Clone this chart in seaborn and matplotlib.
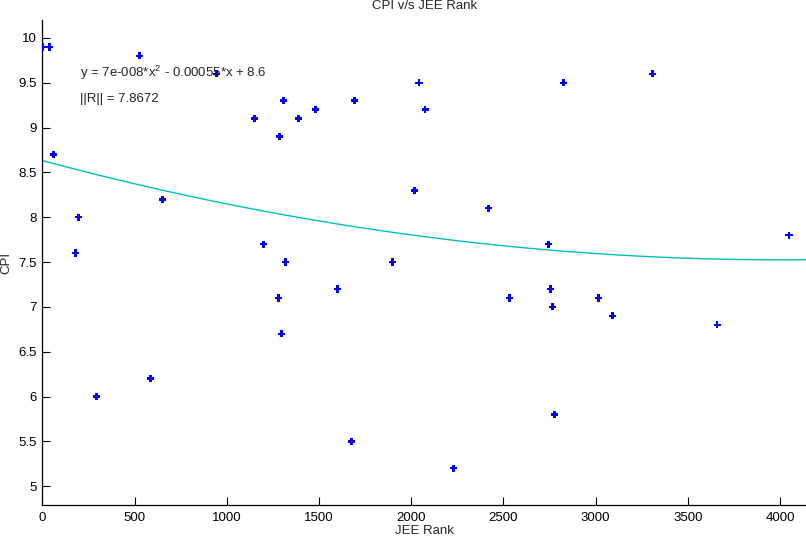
import numpy as np
import pandas as pd
import matplotlib
matplotlib.use("Agg")
import matplotlib.pyplot as plt
import seaborn as sns

# JEE rank vs CPI
jee_rank = [5, 40, 61, 197, 181, 528, 945, 652, 1151, 1286, 1308, 1389, 1481,
            1693, 1199, 1319, 1899, 2018, 2043, 2076, 2419, 2744, 2825, 3308,
            4049, 294, 587, 1281, 1297, 1601, 1677, 2534, 2755, 2766, 3015,
            3091, 3660, 2777, 2229]
cpi = [9.9, 9.9, 8.7, 8.0, 7.6, 9.8, 9.6, 8.2, 9.1, 8.9, 9.3, 9.1, 9.2,
       9.3, 7.7, 7.5, 7.5, 8.3, 9.5, 9.2, 8.1, 7.7, 9.5, 9.6,
       7.8, 6.0, 6.2, 7.1, 6.7, 7.2, 5.5, 7.1, 7.2, 7.0, 7.1,
       6.9, 6.8, 5.8, 5.2]
x_ticks = [0, 500, 1000, 1500, 2000, 2500, 3000, 3500, 4000]
y_ticks = [5, 5.5, 6, 6.5, 7, 7.5, 8, 8.5, 9, 9.5, 10]
y_tick_labels = ["5", "5.5", "6", "6.5", "7", "7.5", "8", "8.5", "9", "9.5", "10"]

df = pd.DataFrame({"JEE Rank": jee_rank, "CPI": cpi})

sns.set_style("white")
plt.rcParams["font.family"] = ["Liberation Sans", "DejaVu Sans"]
plt.rcParams["mathtext.fontset"] = "custom"
plt.rcParams["mathtext.rm"] = "Liberation Sans"
plt.rcParams["mathtext.it"] = "Liberation Sans:italic"

fig = plt.figure(figsize=(8.06, 5.38), dpi=100)
ax = fig.add_axes([42.3 / 806, 1 - 505 / 538, 1 - 42.3 / 806, (505 - 20) / 538])
ax.set_xlim(0, 4141)
ax.set_ylim(4.79, 10.2)

# quadratic fit (MATLAB basic fitting style)
sns.regplot(data=df, x="JEE Rank", y="CPI", order=2, ci=None, scatter=False,
            truncate=False, line_kws={"color": "#00bfbf", "lw": 1.0}, ax=ax)
sns.scatterplot(data=df, x="JEE Rank", y="CPI", marker="P", s=27,
                color="#0000ff", edgecolor="none", ax=ax, zorder=3)

ax.set_xlim(0, 4141)
ax.set_ylim(4.79, 10.2)
ax.set_xticks(x_ticks)
ax.set_yticks(y_ticks)
ax.set_yticklabels(y_tick_labels)
ax.tick_params(direction="in", length=5.5, width=0.8, labelsize=9.5, colors="black",
               bottom=True, left=True)
ax.tick_params(axis="x", pad=5)
ax.tick_params(axis="y", pad=4)
for side in ["top", "right"]:
    ax.spines[side].set_visible(False)
for side in ["left", "bottom"]:
    ax.spines[side].set_color("black")
    ax.spines[side].set_linewidth(0.9)

ax.set_title("CPI v/s JEE Rank", fontsize=9.5, pad=8)
ax.set_xlabel("JEE Rank", fontsize=9.5, labelpad=1)
ax.set_ylabel("CPI", fontsize=9.5, labelpad=4)

ax.text(204, 9.61, r"y = 7e-008*x$^{2}$ - 0.00055*x + 8.6", fontsize=9.5, va="center")
ax.text(204, 9.32, "||R|| = 7.8672", fontsize=9.5, va="center")

fig.savefig("out.png", dpi=100)
